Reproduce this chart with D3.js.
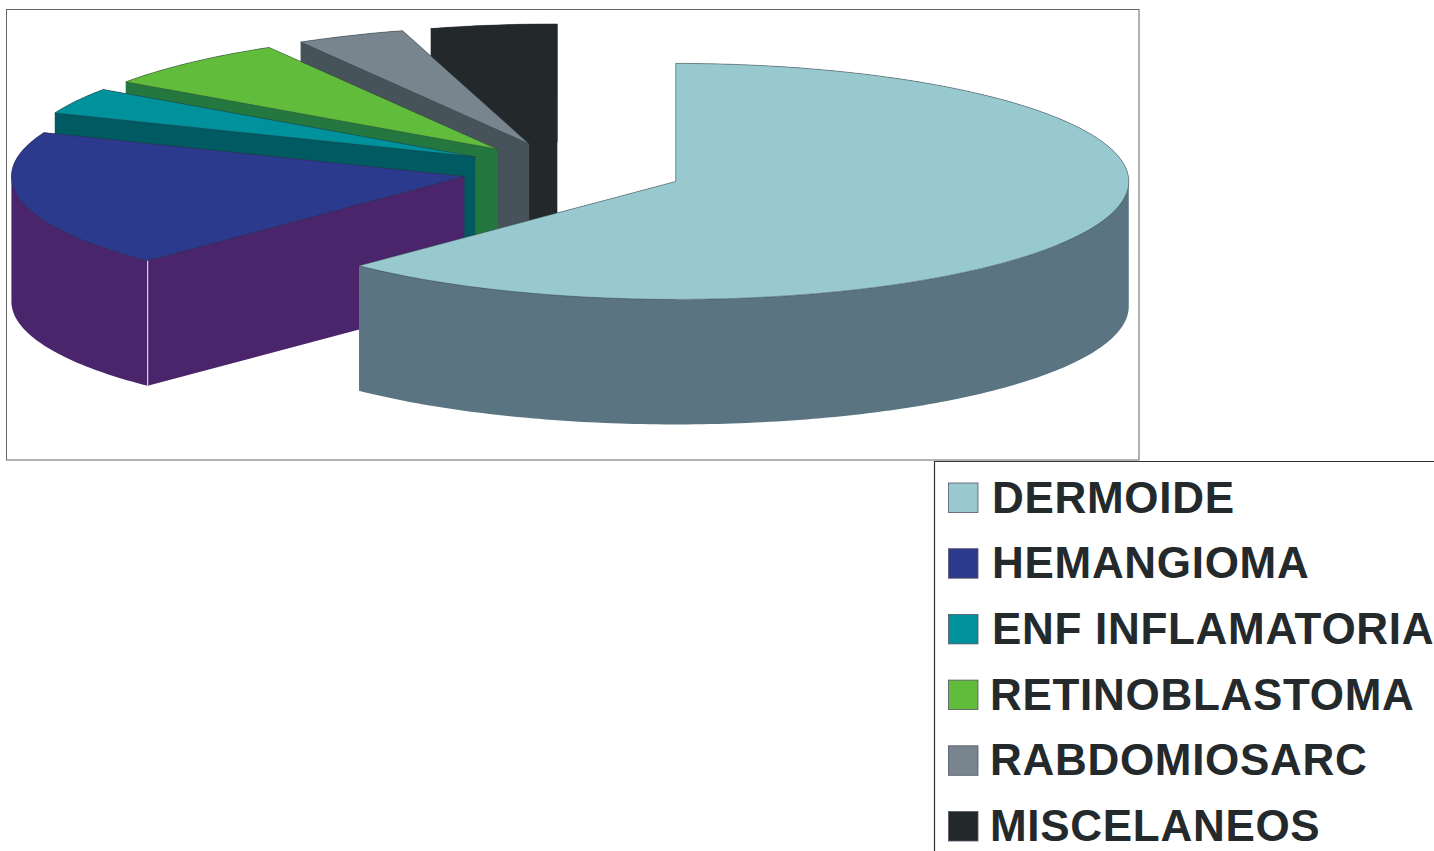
<!DOCTYPE html>
<html><head><meta charset="utf-8">
<script src="https://cdn.jsdelivr.net/npm/d3@7"></script>
<style>html,body{margin:0;padding:0;background:#fff;overflow:hidden}svg{display:block}</style>
</head><body><svg id="c" width="1434" height="851"></svg>
<script>
const categories = ["DERMOIDE","HEMANGIOMA","ENF INFLAMATORIA","RETINOBLASTOMA","RABDOMIOSARC","MISCELANEOS"];
const values = [62.2,18.7,3.6,6.9,3.9,4.5];
const topColors = ["#97c9ce","#2c3a8e","#00929c","#62bc3c","#78858e","#23282b"];
const wallColors = ["#5a7581","#4a256c","#005a62","#23773f","#47535a","#23282b"];

const svg = d3.select("#c");
const rx = 453, ry = 118, depth = 125, explode = 0.245;
const px = d3.scaleLinear().domain([0,1]).range([573,573+rx]);
const py = d3.scaleLinear().domain([0,1]).range([170.5,170.5+ry]);
const pie = d3.pie().value(d=>d).sort(null);
const arcs = pie(values);
const line = d3.line().x(d=>d[0]).y(d=>d[1]);

svg.append("defs").append("clipPath").attr("id","frame").append("rect")
  .attr("x",6).attr("y",10).attr("width",1133).attr("height",450);
const g = svg.append("g").attr("clip-path","url(#frame)");

function unit(a,r,ox,oy){return [px(ox+r*Math.sin(a)), py(oy-r*Math.cos(a))];}
const down = p=>[p[0],p[1]+depth];
// same winding for every quad, so that one path fills as a union
const quad = pts => line(d3.polygonArea(pts) < 0 ? pts.slice().reverse() : pts)+"Z";

[5,4,3,2,1,0].forEach(i=>{
  const d = arcs[i], mid=(d.startAngle+d.endAngle)/2;
  const ox = explode*Math.sin(mid), oy = -explode*Math.cos(mid);
  const n = Math.max(8,Math.ceil((d.endAngle-d.startAngle)*60));
  const angles = d3.range(n+1).map(k=>d.startAngle+(d.endAngle-d.startAngle)*k/n);
  const rim = angles.map(a=>unit(a,1,ox,oy));
  const c = unit(0,0,ox,oy);
  const wall = [rim[0],rim[n]].map(p=>quad([c,p,down(p),down(c)]))
    .concat(d3.pairs(rim).map(([p,q])=>quad([p,q,down(q),down(p)]))).join("");
  g.append("path").attr("d",wall).attr("fill",wallColors[i]);
  g.append("path").attr("d",line([c].concat(rim))+"Z")
    .attr("fill",topColors[i]).attr("stroke","#2a3238").attr("stroke-opacity",0.55).attr("stroke-width",0.8);
  if(i===1){
    const p=rim[0];
    g.append("path").attr("d",line([p,down(p)])).attr("stroke","#d8d4df").attr("stroke-width",1.2);
  }
});

// frames
svg.append("rect").attr("x",6.5).attr("y",9.5).attr("width",1132.5).attr("height",450.5)
  .attr("fill","none").attr("stroke","#666").attr("stroke-width",1);
svg.append("path").attr("d","M934.5,851V461.5H1434").attr("fill","none").attr("stroke","#333").attr("stroke-width",1.2);

// legend
const ly = d3.scalePoint().domain(categories).range([497.5,826]);
const lg = svg.append("g").selectAll("g").data(categories).join("g")
  .attr("transform",d=>`translate(0,${ly(d)})`);
lg.append("rect").attr("x",948.5).attr("y",-14.5).attr("width",29.5).attr("height",29.5)
  .attr("fill",(d,i)=>topColors[i]).attr("stroke","#556").attr("stroke-width",0.8);
lg.append("text").attr("x",(d,i)=>i<3?992:990).attr("y",15).text(d=>d)
  .attr("font-family","Liberation Sans").attr("font-weight","bold").attr("font-size",44)
  .attr("letter-spacing",0.7).attr("fill","#24292c");
</script></body></html>
